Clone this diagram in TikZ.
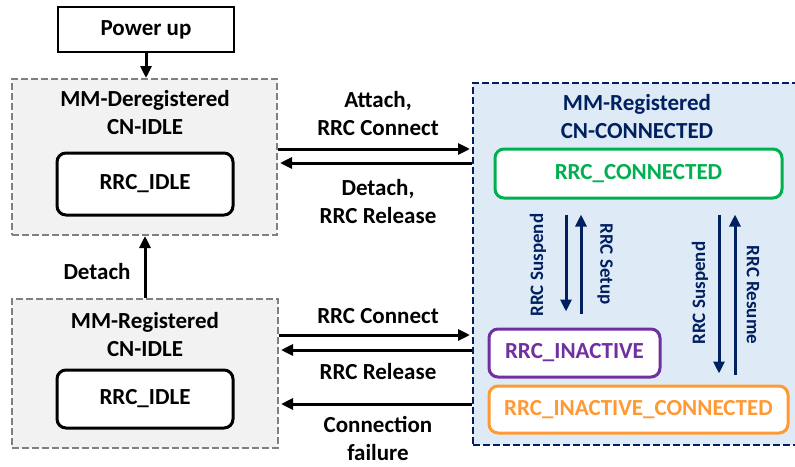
\documentclass[tikz,border=0pt]{standalone}
\usepackage{fontspec}
\setmainfont{Carlito}
\usetikzlibrary{arrows.meta}
\definecolor{navy}{HTML}{002060}
\definecolor{bluefill}{HTML}{DEEBF7}
\definecolor{grayline}{HTML}{808080}
\definecolor{grayfill}{HTML}{F2F2F2}
\definecolor{rrcgreen}{HTML}{00B050}
\definecolor{rrcpurple}{HTML}{7030A0}
\definecolor{rrcorange}{HTML}{FF9933}
\begin{document}
\begin{tikzpicture}[x=1pt,y=-1pt,
  every node/.style={font=\fontsize{23}{28}\selectfont\bfseries,align=center},
  group/.style={draw=grayline,fill=grayfill,dash pattern=on 7pt off 3pt,line width=2pt,inner sep=0pt},
  state/.style={draw,rounded corners=9pt,line width=3pt,fill=white,inner sep=0pt},
  flow/.style={line width=3pt,-{Triangle[length=12pt,width=11pt]}},
  navyflow/.style={flow,color=navy},
  side/.style={font=\fontsize{19}{24}\selectfont\bfseries,text=navy}]
  \useasboundingbox (0,0) rectangle (795,466);
  \clip (0,0) rectangle (795,466);

  \node[group,minimum width=265pt,minimum height=156pt] (dereg) at (144.5,157) {};
  \node[group,minimum width=266pt,minimum height=149pt] (regidle) at (145,373.5) {};
  \node[group,draw=navy,fill=bluefill,minimum width=332pt,minimum height=362pt] (conn) at (639,264) {};

  \node (deregtitle) at (145,113) {MM-Deregistered\\CN-IDLE};
  \node (regidletitle) at (145,335) {MM-Registered\\CN-IDLE};
  \node[text=navy] (conntitle) at (637,117) {MM-Registered\\CN-CONNECTED};

  \node[draw,line width=2.5pt,minimum width=176pt,minimum height=45pt,inner sep=0pt] (power) at (146,29.5) {Power up};
  \node[state,minimum width=176pt,minimum height=62pt] (idleup) at (145,184) {RRC\_IDLE};
  \node[state,minimum width=176pt,minimum height=58pt] (idledown) at (145,399) {RRC\_IDLE};
  \node[state,draw=rrcgreen,text=rrcgreen,minimum width=287pt,minimum height=49pt] (rrcconn) at (638.5,173.5) {RRC\_CONNECTED};
  \node[state,draw=rrcpurple,text=rrcpurple,minimum width=171pt,minimum height=48pt] (inactive) at (574.5,353) {RRC\_INACTIVE};
  \node[state,draw=rrcorange,text=rrcorange,minimum width=299pt,minimum height=47pt] (inactconn) at (638.5,409.5) {RRC\_INACTIVE\_CONNECTED};

  \draw[flow] (power.south) -- (power.south |- dereg.north);
  \draw[flow] (regidle.north) -- (regidle.north |- dereg.south);
  \node (detachup) at (97,272) {Detach};

  \foreach \y/\a/\b in {149/dereg.east/conn.west, 163/conn.west/dereg.east,
      335/regidle.east/conn.west, 350/conn.west/regidle.east, 404/conn.west/regidle.east}
    \draw[flow,shorten >=2pt] (\a |- 0,\y) -- (\b |- 0,\y);
  \node (attachlbl) at (378,114) {Attach,\\RRC Connect};
  \node (detachlbl) at (378,202) {Detach,\\RRC Release};
  \node (connectlbl) at (378,316) {RRC Connect};
  \node (releaselbl) at (378,372) {RRC Release};
  \node[inner sep=0pt] (faillbl) at (378,438) {Connection\\failure};

  \foreach \x/\a/\b/\s/\e in {566/rrcconn.south/inactive.north/15/16, 581/inactive.north/rrcconn.south/14/15,
      719/rrcconn.south/inactconn.north/15/11, 735/inactconn.north/rrcconn.south/10/15}
    \draw[navyflow,shorten <=\s pt,shorten >=\e pt] (\a -| \x,0) -- (\b -| \x,0);
  \node[side,rotate=90] (suspendone) at (538,265) {RRC Suspend};
  \node[side,rotate=-90] (setup) at (605,264) {RRC Setup};
  \node[side,rotate=90] (suspendtwo) at (700,293) {RRC Suspend};
  \node[side,rotate=-90] (resume) at (753,295) {RRC Resume};
\end{tikzpicture}
\end{document}
